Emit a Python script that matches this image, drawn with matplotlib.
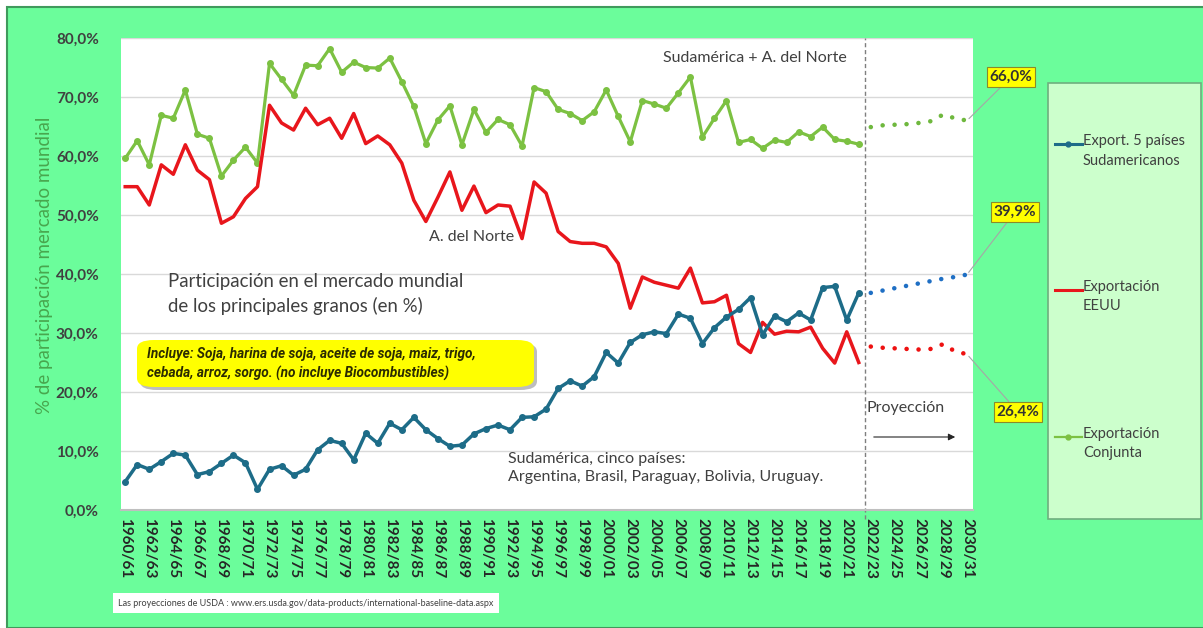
import numpy as np
import matplotlib
matplotlib.use("Agg")
import matplotlib.pyplot as plt
from matplotlib.patches import Rectangle, FancyBboxPatch
from matplotlib.lines import Line2D

plt.rcParams['font.family'] = ['Lato', 'DejaVu Sans']

# campañas 1960/61 .. 2030/31
campanas = [f"{y}/{(y + 1) % 100:02d}" for y in range(1960, 2031)]

# historico 1960/61 .. 2021/22 (% del mercado mundial)
sud_hist = [4.8, 7.7, 6.9, 8.2, 9.6, 9.3, 6.0, 6.5, 7.9, 9.3, 8.0, 3.5, 6.9, 7.5, 5.9, 6.9,
            10.2, 11.8, 11.3, 8.5, 13.0, 11.3, 14.7, 13.6, 15.7, 13.6, 12.1, 10.8, 11.0, 12.9,
            13.8, 14.4, 13.6, 15.7, 15.8, 17.1, 20.6, 21.9, 21.0, 22.6, 26.7, 24.9, 28.4, 29.7,
            30.2, 29.9, 33.2, 32.5, 28.2, 30.9, 32.7, 34.0, 36.0, 29.7, 32.9, 31.9, 33.4, 32.2,
            37.7, 37.9, 32.2, 36.8]
usa_hist = [54.8, 54.8, 51.7, 58.5, 56.9, 61.9, 57.6, 56.0, 48.6, 49.7, 52.8, 54.8, 68.6, 65.6,
            64.4, 68.1, 65.3, 66.4, 63.0, 67.2, 62.1, 63.4, 61.9, 58.8, 52.5, 48.9, 53.0, 57.3,
            50.8, 54.9, 50.4, 51.7, 51.5, 46.0, 55.6, 53.7, 47.2, 45.5, 45.2, 45.2, 44.6, 41.8,
            34.2, 39.5, 38.6, 38.1, 37.6, 41.0, 35.1, 35.3, 36.4, 28.2, 26.7, 31.8, 29.8, 30.3,
            30.2, 31.0, 27.4, 24.9, 30.2, 25.0]
conj_hist = [59.6, 62.6, 58.5, 66.9, 66.4, 71.2, 63.7, 63.0, 56.6, 59.3, 61.5, 58.8, 75.7, 73.0,
             70.3, 75.4, 75.3, 78.2, 74.2, 75.9, 75.0, 74.9, 76.6, 72.6, 68.4, 62.1, 66.1, 68.5,
             61.9, 67.9, 64.0, 66.2, 65.3, 61.7, 71.6, 70.9, 67.9, 67.2, 66.0, 67.5, 71.2, 66.7,
             62.4, 69.4, 68.8, 68.1, 70.7, 73.4, 63.2, 66.4, 69.4, 62.3, 62.8, 61.3, 62.7, 62.3,
             64.1, 63.3, 64.9, 62.8, 62.5, 62.0]

# proyeccion USDA 2022/23 .. 2030/31
sud_proj = [36.8, 37.2, 37.6, 38.0, 38.4, 38.8, 39.2, 39.5, 39.9]
usa_proj = [27.7, 27.5, 27.4, 27.3, 27.2, 27.3, 28.1, 26.9, 26.4]
conj_proj = [64.9, 65.2, 65.3, 65.4, 65.6, 65.9, 67.0, 66.4, 66.0]

etiquetas_fin = ["39,9%", "26,4%", "66,0%"]
nombres = ["Export. 5 países\nSudamericanos", "Exportación\nEEUU", "Exportación\nConjunta"]

W, H = 1203, 628
def fx(px): return px / W
def fy(py): return 1 - py / H

c_sud, c_usa, c_conj = '#1d6c88', '#e8161c', '#7cc142'
c_sud_p, c_usa_p, c_conj_p = '#1f6fc4', '#ee1111', '#6fb83e'
txt = '#404040'

fig = plt.figure(figsize=(W / 100, H / 100), dpi=100)
fig.patch.set_facecolor('white')
fig.add_artist(Rectangle((fx(7), 0), 1.2, fy(7), transform=fig.transFigure,
                         facecolor='#6bfd9b', edgecolor='#3f9a5c', lw=1.5, zorder=-10))

ax = fig.add_axes([fx(121), fy(510), fx(973) - fx(121), fy(38) - fy(510)])
ax.set_facecolor('white')

n_hist = len(sud_hist)
x_hist = np.arange(n_hist)
x_proj = np.arange(n_hist, n_hist + len(sud_proj))

ax.plot(x_hist, conj_hist, color=c_conj, lw=2.3, marker='o', ms=4, zorder=3)
ax.plot(x_hist, usa_hist, color=c_usa, lw=2.5, zorder=3)
ax.plot(x_hist, sud_hist, color=c_sud, lw=2.5, marker='o', ms=4, zorder=4)

dots = (0, (0.01, 2.6))
for xs, ys, c in [(x_proj, conj_proj, c_conj_p), (x_proj, sud_proj, c_sud_p), (x_proj, usa_proj, c_usa_p)]:
    ax.plot(xs, ys, color=c, lw=3.3, ls=dots, dash_capstyle='round', zorder=3)

ax.set_ylim(0, 80)
ax.set_xlim(-0.35, 70.5)
ax.set_yticks(np.arange(0, 81, 10))
ax.set_yticklabels([f"{v},0%" for v in range(0, 81, 10)], fontsize=11, fontweight='bold', color=txt)
ax.yaxis.grid(True, color='#d9d9d9', lw=1)
ax.set_axisbelow(True)
ax.set_xticks(np.arange(0, len(campanas), 2))
ax.set_xticklabels(campanas[::2], rotation=270, fontsize=11, fontweight='bold', color='#262626')
ax.tick_params(axis='both', length=0)
ax.tick_params(axis='y', pad=16)
ax.tick_params(axis='x', pad=6)
for s in ['left', 'right', 'top']:
    ax.spines[s].set_visible(False)
ax.spines['bottom'].set_color('#bfbfbf')
ax.spines['bottom'].set_linewidth(1.5)

ax.axvline(61.5, ymin=-0.02, ymax=1, color='#7f7f7f', lw=1, ls=(0, (3, 2)), clip_on=False, zorder=2)

fig.text(fx(45), fy(265), "% de participación mercado mundial", rotation=90, ha='center', va='center',
         fontsize=13.5, color='#48a64e')

# textos dentro del grafico
fig.text(fx(663), fy(58), "Sudamérica + A. del Norte", fontsize=11.5, color=txt, va='center')
fig.text(fx(429), fy(237), "A. del Norte", fontsize=11.5, color=txt, va='center')
fig.text(fx(168), fy(294), "Participación en el mercado mundial\nde los principales granos (en %)",
         fontsize=13.4, color=txt, va='center', linespacing=1.4)
fig.text(fx(508), fy(468), "Sudamérica, cinco países:\nArgentina, Brasil, Paraguay, Bolivia, Uruguay.",
         fontsize=11.5, color=txt, va='center', linespacing=1.4)
fig.text(fx(866), fy(408), "Proyección", fontsize=11.5, color=txt, va='center')
ax.annotate('', xy=(fx(958), fy(437)), xytext=(fx(871), fy(437)), xycoords='figure fraction',
            arrowprops=dict(arrowstyle='-|>', color='#262626', lw=0.8, mutation_scale=10))

# recuadro amarillo
for off, fc, z in [((3, 3), '#bdbdbd', 5), ((0, 0), '#ffff00', 6)]:
    fig.add_artist(FancyBboxPatch((fx(137 + off[0]), fy(387 + off[1])), fx(397), fy(0) - fy(47),
                                  boxstyle='round,pad=0,rounding_size=0.014', transform=fig.transFigure,
                                  facecolor=fc, edgecolor='none', zorder=z))
fig.text(fx(147), fy(364), "Incluye: Soja, harina de soja, aceite de soja, maiz, trigo,\n"
         "cebada, arroz, sorgo. (no incluye Biocombustibles)", fontsize=9.8, fontweight='bold',
         fontstyle='italic', family=['Roboto', 'DejaVu Sans'], color='#2b2b00', va='center',
         linespacing=1.45, zorder=7)

# etiquetas de los ultimos valores
finales = [sud_proj[-1], usa_proj[-1], conj_proj[-1]]
pos_etq = [(1015, 212), (1018, 412), (1011, 77)]
for val, lab, (px, py) in zip(finales, etiquetas_fin, pos_etq):
    ax.annotate(lab, xy=(x_proj[-1], val), xytext=(fx(px), fy(py)), textcoords='figure fraction',
                ha='center', va='center', fontsize=11, fontweight='bold', color='#333333',
                bbox=dict(boxstyle='square,pad=0.2', fc='#ffff00', ec='#8a8a2a', lw=0.8),
                arrowprops=dict(arrowstyle='-', color='#a6a6a6', lw=0.8, shrinkA=0, shrinkB=2),
                annotation_clip=False, zorder=8)

# leyenda
fig.add_artist(Rectangle((fx(1048), fy(519)), fx(153), fy(83) - fy(519), transform=fig.transFigure,
                         facecolor='#ccffcc', edgecolor='#6fae7f', lw=1.2, zorder=1))
leg_y = [144, 290, 437]
leg_style = [(c_sud, 'o', 2.2), (c_usa, None, 2.2), (c_conj, 'o', 1.6)]
for nom, yy, (c, mk, lw) in zip(nombres, leg_y, leg_style):
    fig.add_artist(Line2D([fx(1055), fx(1082)], [fy(yy), fy(yy)], transform=fig.transFigure,
                          color=c, lw=lw, zorder=2))
    if mk:
        fig.add_artist(Line2D([fx(1068)], [fy(yy)], transform=fig.transFigure, color=c,
                              marker=mk, ms=3.5, zorder=3))
    fig.text(fx(1083), fy(yy - 10), nom, fontsize=10.5, color=txt, va='top', linespacing=1.5)

# fuente
fig.text(fx(118), fy(603), "Las proyecciones de USDA : www.ers.usda.gov/data-products/international-baseline-data.aspx",
         fontsize=6.5, color='#404040', va='center',
         bbox=dict(boxstyle='square,pad=0.6', fc='white', ec='none'))

fig.savefig('out.png', dpi=100, facecolor=fig.get_facecolor())
